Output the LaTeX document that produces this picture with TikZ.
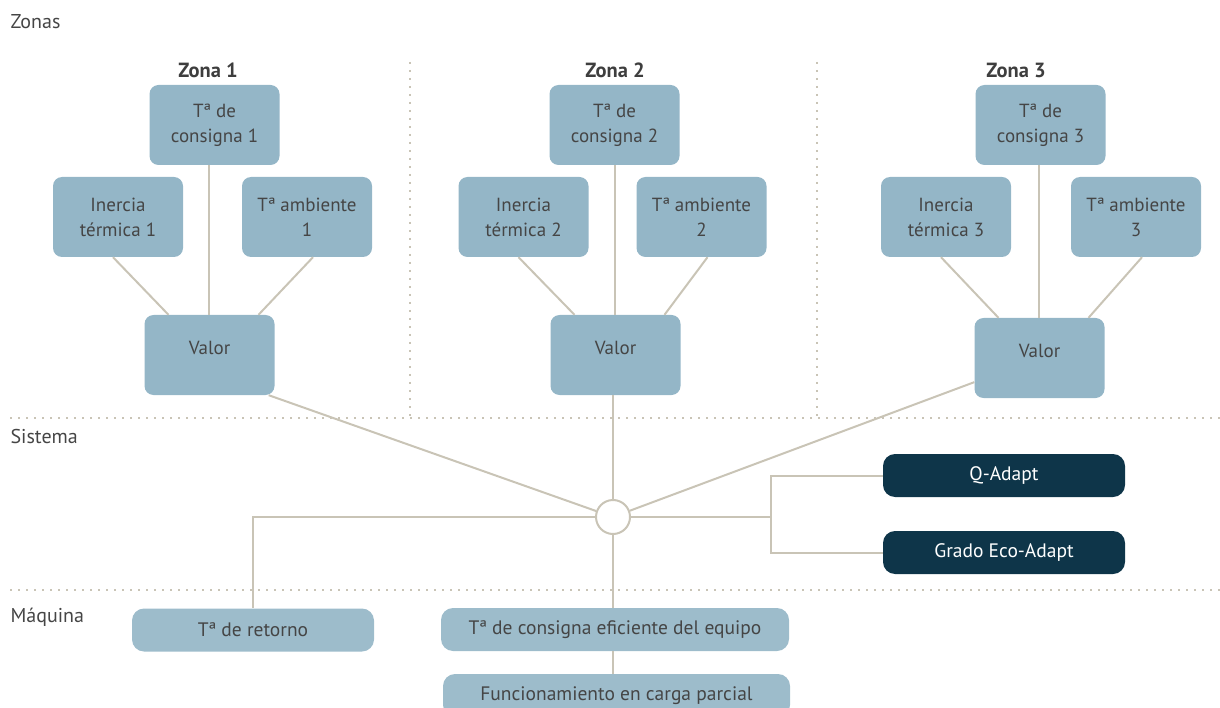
\documentclass[tikz,border=0pt]{standalone}
\usepackage{fontspec}
\setmainfont{PT Sans}

\definecolor{boxblue}{HTML}{94B6C7}
\definecolor{boxnavy}{HTML}{0E3549}
\definecolor{wire}{HTML}{C9C4B6}
\definecolor{ink}{HTML}{454545}

\tikzset{
  zonebox/.style={rectangle,rounded corners=9,fill=boxblue,text=ink,
    minimum width=130,minimum height=80,align=center,
    font=\fontsize{19}{25}\selectfont},
  valorbox/.style={rectangle,rounded corners=9,fill=boxblue,text=ink,
    minimum width=130,minimum height=80,text depth=14pt,
    font=\fontsize{19}{25}\selectfont},
  machbox/.style={rectangle,rounded corners=12,fill=boxblue!92!white,text=ink,
    minimum height=43,font=\fontsize{19.5}{22}\selectfont},
  darkbox/.style={rectangle,rounded corners=12,fill=boxnavy,text=white,
    minimum width=242,minimum height=43,font=\fontsize{19.5}{22}\selectfont},
  link/.style={draw=wire,line width=2},
  sep/.style={draw=wire,line width=1.6,dash pattern=on 1.6pt off 6.4pt},
  rowlabel/.style={anchor=west,text=ink,font=\fontsize{20}{22}\selectfont}
}

\begin{document}
\begin{tikzpicture}[x=1pt,y=-1pt]
\useasboundingbox (0,0) rectangle (1220,708);
\clip (0,0) rectangle (1220,708);
% separators
\draw[sep] (10,418) -- (1220,418);
\draw[sep] (10,590) -- (1220,590);
\draw[sep] (410,62) -- (410,416);
\draw[sep] (817,62) -- (817,416);
\node[rowlabel] (zonas) at (7,22) {Zonas};
\node[rowlabel] (sistema) at (7,436) {Sistema};
\node[rowlabel] (maquina) at (7,617) {Máquina};
% one tree per zone
\foreach \z/\lx/\cx/\ix/\ax/\vx/\vy in
  {1/208/214.5/118/307/209.5/355,
   2/615/614.5/523.5/701.5/615.5/355,
   3/1016/1040.5/946/1136/1039.5/358}
{
  \node[text=ink!90!black,font=\fontsize{20.5}{22}\selectfont\bfseries]
    (z\z) at (\lx,70) {Zona \z};
  \node[zonebox] (c\z) at (\cx,125) {Tª de\\consigna \z};
  \node[zonebox] (i\z) at (\ix,217) {Inercia\\térmica \z};
  \node[zonebox] (a\z) at (\ax,217) {Tª ambiente\\\z};
  \node[valorbox] (v\z) at (\vx,\vy) {Valor};
  \draw[link] ([xshift=-5]i\z.south) -- ([xshift=-41]v\z.north);
  \draw[link] ([xshift=6]a\z.south) -- ([xshift=49]v\z.north);
  \draw[link] ([xshift=-1]v\z.north) -- ([xshift=-1]v\z.north |- c\z.south);
}
% Sistema
\node[circle,draw=wire,line width=2,fill=white,minimum size=34] (hub) at (613,517) {};
\node[darkbox] (qa) at (1004,475.5) {Q-Adapt};
\node[darkbox] (eco) at (1004,552.5) {Grado Eco-Adapt};
\coordinate (split) at (771,517);
\draw[link] ([xshift=-6]v1.south east) -- (hub);
\draw[link] (hub.north) -- (hub.north |- v2.south);
\draw[link] (v3) -- (hub);
\draw[link] (hub.east) -- (split);
\draw[link] (qa.west) -| (split) |- (eco.west);
% Maquina
\node[machbox,minimum width=242] (ret) at (253,630) {Tª de retorno};
\node[machbox,minimum width=348] (efi) at (615,629.5) {Tª de consigna eficiente del equipo};
\node[machbox,minimum width=347] (func) at (616.5,695.5) {Funcionamiento en carga parcial};
\draw[link] (hub.west) -| (ret.north);
\draw[link] (hub.south) -- (hub.south |- efi.north);
\draw[link] (hub.south |- efi.south) -- (hub.south |- func.north);
\end{tikzpicture}
\end{document}
